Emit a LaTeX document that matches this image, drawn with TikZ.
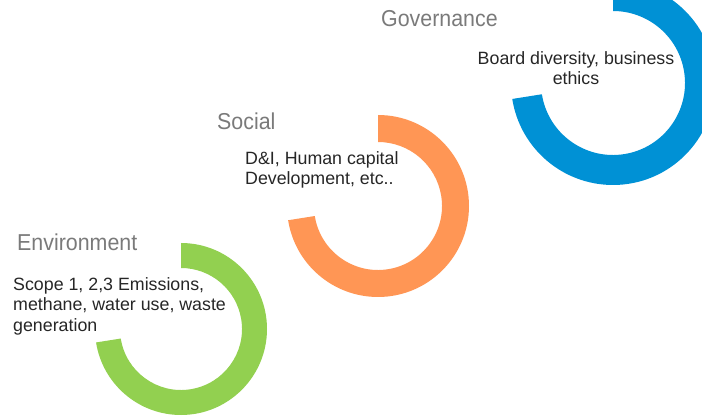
\documentclass[tikz,border=0pt]{standalone}
\usepackage{fontspec}
\setmainfont{Liberation Sans}
\newfontfamily\headfont[FakeStretch=0.93]{Liberation Sans}
\usetikzlibrary{calc}

\definecolor{envgreen}{HTML}{92D050}
\definecolor{socorange}{HTML}{FF9655}
\definecolor{govblue}{HTML}{0091D5}
\definecolor{headgray}{HTML}{7A7A7A}
\definecolor{bodygray}{HTML}{262626}

\tikzset{
  heading/.style = {anchor = base west, inner sep = 0pt, text = headgray,
    font = \headfont\fontsize{23}{27}\selectfont},
  body/.style = {inner sep = 0pt, text = bodygray,
    font = \fontsize{17.8}{20.5}\selectfont}
}

\begin{document}
\begin{tikzpicture}[x = 1pt, y = 1pt, line join = round]
  \useasboundingbox (0, 0) rectangle (702, 418);
  \clip (0, 0) rectangle (702, 418);

  \foreach \cx/\cy/\ro/\ri/\col in {181/89/86/61/envgreen,
    378/212/91/64/socorange, 613/335/102/72/govblue} {
    \coordinate (C) at (\cx, \cy);
    \fill[\col] (C) ++(90:\ro) arc[start angle = 90, end angle = -171,
      radius = \ro] -- ($(C) + (-171:\ri)$) arc[start angle = -171,
      end angle = 90, radius = \ri] -- cycle;
  }

  \node[heading] (envhead) at (17, 167) {Environment};
  \node[body, anchor = north west, align = left] (envtext) at (13, 141)
    {Scope 1, 2,3 Emissions,\\methane, water use, waste\\generation};

  \node[heading] (sochead) at (217, 288) {Social};
  \node[body, anchor = north west, align = left] (soctext) at (245, 267)
    {D\&I, Human capital\\Development, etc..};

  \node[heading] (govhead) at (381, 391) {Governance};
  \node[body, anchor = north, align = center] (govtext) at (576, 367)
    {Board diversity, business\\ethics};
\end{tikzpicture}
\end{document}
